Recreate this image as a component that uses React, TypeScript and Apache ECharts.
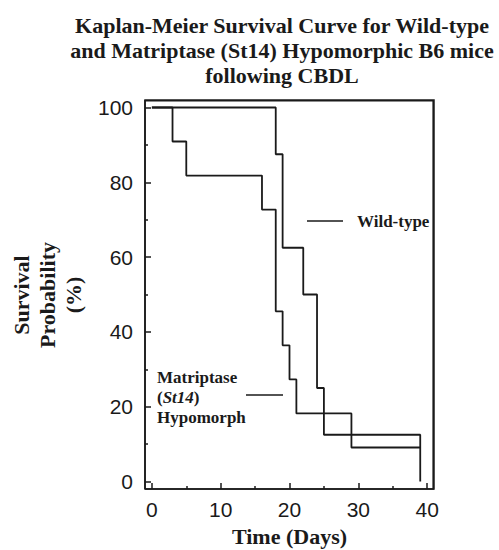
import React, { useEffect, useRef } from 'react';
import * as echarts from 'echarts';

const wildTypeDays = [0, 18, 19, 22, 24, 25, 39];
const wildTypeSurvival = [100, 87.5, 62.5, 50, 25, 12.5, 0];
const mutantDays = [0, 3, 5, 16, 18, 19, 20, 21, 29, 39];
const mutantSurvival = [100, 90.9, 81.8, 72.7, 45.5, 36.4, 27.3, 18.2, 9.1, 9.1];
const xMajorTicks = [0, 10, 20, 30, 40];
const xMinorTicks = [5, 15, 25, 35];
const yMajorTicks = [0, 20, 40, 60, 80, 100];
const yMinorTicks = [10, 30, 50, 70, 90];
const X_MIN = -1;
const X_MAX = 41;
const Y_MIN = -2;
const Y_MAX = 102;

const SERIF = 'Liberation Serif';
const SANS = 'Liberation Sans';
const INK = '#1a1a1a';

export default function App() {
  const ref = useRef<HTMLDivElement>(null);
  useEffect(() => {
    if (!ref.current) return;
    const chart = echarts.init(ref.current, undefined, { renderer: 'svg' });
    const tickLine = { color: INK, width: 1.5 };
    const xBase = { type: 'value', min: X_MIN, max: X_MAX, gridIndex: 0, splitLine: { show: false } };
    const yBase = { type: 'value', min: Y_MIN, max: Y_MAX, gridIndex: 0, splitLine: { show: false } };
    chart.setOption({
      animation: false,
      backgroundColor: '#ffffff',
      title: {
        text: 'Kaplan-Meier Survival Curve for Wild-type\nand Matriptase (St14) Hypomorphic B6 mice\nfollowing CBDL',
        left: 277,
        top: 8,
        textAlign: 'center',
        textStyle: { fontFamily: SERIF, fontWeight: 'bold', fontSize: 22, lineHeight: 25, color: INK },
      },
      grid: {
        left: 145, right: 65, top: 100, bottom: 61,
        outerBoundsMode: 'none',
        containLabel: false,
        show: true,
        borderColor: INK,
        borderWidth: 1.5,
      },
      xAxis: [
        {
          ...xBase,
          position: 'bottom',
          axisLine: { show: false, onZero: false },
          axisTick: { show: true, inside: true, length: 6, customValues: xMajorTicks, lineStyle: tickLine },
          axisLabel: { show: true, customValues: xMajorTicks, fontSize: 21, fontFamily: SANS, color: INK, margin: 10 },
          name: 'Time (Days)',
          nameLocation: 'middle',
          nameGap: 36,
          nameTextStyle: { fontFamily: SERIF, fontWeight: 'bold', fontSize: 22, color: INK },
        },
        {
          ...xBase,
          position: 'bottom',
          axisLine: { show: false, onZero: false },
          axisTick: { show: true, inside: true, length: 3, customValues: xMinorTicks, lineStyle: tickLine },
          axisLabel: { show: false },
        },
      ],
      yAxis: [
        {
          ...yBase,
          position: 'left',
          axisLine: { show: false, onZero: false },
          axisTick: { show: true, inside: true, length: 6, customValues: yMajorTicks, lineStyle: tickLine },
          axisLabel: { show: true, customValues: yMajorTicks, fontSize: 21, fontFamily: SANS, color: INK, margin: 12 },
        },
        {
          ...yBase,
          position: 'left',
          axisLine: { show: false, onZero: false },
          axisTick: { show: true, inside: true, length: 3, customValues: yMinorTicks, lineStyle: tickLine },
          axisLabel: { show: false },
        },
      ],
      series: [
        {
          name: 'Wild-type',
          type: 'line',
          step: 'end',
          xAxisIndex: 0,
          yAxisIndex: 0,
          symbol: 'none',
          lineStyle: { color: INK, width: 1.8 },
          data: wildTypeDays.map((d, i) => [d, wildTypeSurvival[i]]),
        },
        {
          name: 'Matriptase (St14) Hypomorph',
          type: 'line',
          step: 'end',
          xAxisIndex: 0,
          yAxisIndex: 0,
          symbol: 'none',
          lineStyle: { color: INK, width: 1.8 },
          data: mutantDays.map((d, i) => [d, mutantSurvival[i]]),
        },
      ],
      graphic: [
        {
          id: 'yname',
          type: 'text',
          x: 47,
          y: 295,
          rotation: Math.PI / 2,
          style: {
            text: 'Survival\nProbability\n(%)',
            fontFamily: SERIF,
            fontWeight: 'bold',
            fontSize: 22,
            lineHeight: 26,
            fill: INK,
            align: 'center',
            verticalAlign: 'middle',
          },
        },
        {
          id: 'wtLine',
          type: 'line',
          shape: { x1: 307, y1: 221, x2: 343, y2: 221 },
          style: { stroke: INK, lineWidth: 1.5 },
        },
        {
          id: 'wtText',
          type: 'text',
          x: 357,
          y: 221,
          style: {
            text: 'Wild-type',
            fontFamily: SERIF,
            fontWeight: 'bold',
            fontSize: 17,
            fill: INK,
            align: 'left',
            verticalAlign: 'middle',
          },
        },
        {
          id: 'mutLine',
          type: 'line',
          shape: { x1: 246, y1: 395, x2: 283, y2: 395 },
          style: { stroke: INK, lineWidth: 1.5 },
        },
        {
          id: 'mutText',
          type: 'text',
          x: 157,
          y: 397,
          style: {
            text: '{b|Matriptase}\n{b|(}{i|St14}{b|)}\n{b|Hypomorph}',
            fill: INK,
            align: 'left',
            verticalAlign: 'middle',
            rich: {
              b: { fontFamily: SERIF, fontWeight: 'bold', fontSize: 17, lineHeight: 20, fill: INK },
              i: { fontFamily: SERIF, fontWeight: 'bold', fontStyle: 'italic', fontSize: 17, lineHeight: 20, fill: INK },
            },
          },
        },
      ],
    });
    // explicit plot frame, placed from the axes' own extents
    const a = chart.convertToPixel({ gridIndex: 0 }, [X_MIN, Y_MIN]) as number[];
    const b = chart.convertToPixel({ gridIndex: 0 }, [X_MAX, Y_MAX]) as number[];
    if (a && b) {
      const L = Math.min(a[0], b[0]);
      const R = Math.max(a[0], b[0]);
      const T = Math.min(a[1], b[1]);
      const B = Math.max(a[1], b[1]);
      const edge = (id: string, x1: number, y1: number, x2: number, y2: number, w: number) => ({
        id,
        type: 'line',
        z: 100,
        shape: { x1, y1, x2, y2 },
        style: { stroke: INK, lineWidth: w },
      });
      chart.setOption({
        graphic: [
          edge('frameTop', L, T + 0.8, R, T + 0.8, 1.6),
          edge('frameRight', R - 0.8, T, R - 0.8, B, 1.6),
          edge('frameBottom', L, B, R, B, 1.6),
          edge('frameLeft', L, T, L, B, 1.6),
        ],
      });
    }
    return () => chart.dispose();
  }, []);
  return (
    <div
      ref={ref}
      style={{ position: 'absolute', left: 0, top: 0, width: 499, height: 550, background: '#fff' }}
    />
  );
}
